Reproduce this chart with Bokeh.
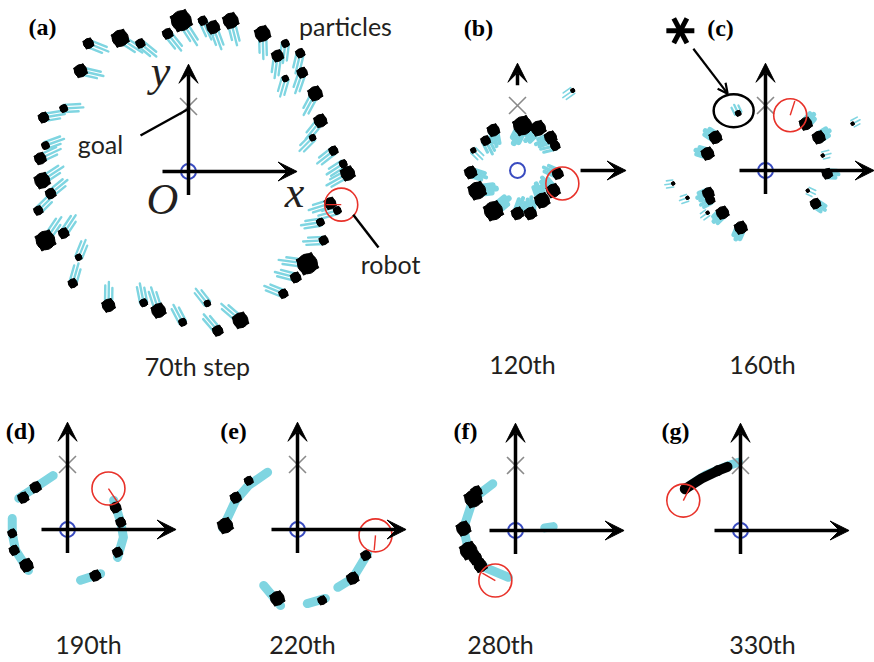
import math
from bokeh.plotting import figure
from bokeh.models import Range1d, Arrow, VeeHead, OpenHead
from bokeh.core.properties import value
from bokeh.embed import file_html
from bokeh.resources import INLINE

# ---------------- data (world units, goal at (0, 1)) ----------------
goal_xy = (0.0, 1.0)
axis_x_extent = (-0.40, 1.67)
axis_y_extent = (-0.36, 1.65)
b_stub_x = (0.97, 1.67)      # panel (b): only the outer part of the axes is visible
b_stub_y = (1.31, 1.65)

panel_letters = ["(a)", "(b)", "(c)", "(d)", "(e)", "(f)", "(g)"]
step_labels = ["70th step", "120th", "160th", "190th", "220th", "280th", "330th"]

robot_x = [2.35, 0.69, 0.38, 0.63, 1.20, -0.31, -0.88]
robot_y = [-0.51, -0.20, 0.85, 0.63, -0.09, -0.77, 0.46]
robot_heading = [180, None, 72, -56, -95, 150, 63]

# panel (a): particle clusters
a_x = [-0.11, 0.38, 0.65, 0.22, -0.32, -1.05, -0.74, -1.54, -1.66, 1.14, 1.37, 1.49,
       1.72, 1.75, 1.49, 1.95, 2.03, 1.91, 2.23, 2.45, 2.38, 2.18, 2.29, 2.03, 2.08,
       1.83, 1.65, 1.46, 0.80, 0.45, 0.29, -0.09, -0.46, -0.69, -1.23, -1.78, -1.69,
       -2.20, -1.92, -2.31, -2.12, -2.25, -2.28, -2.20, -2.23, -1.92]
a_y = [2.32, 2.22, 2.32, 2.32, 2.12, 2.05, 1.97, 1.97, 1.55, 2.12, 1.78, 1.97,
       1.82, 1.52, 1.43, 1.20, 0.78, 0.52, 0.32, -0.03, 0.12, -0.49, -0.60, -0.78, -1.06,
       -1.42, -1.63, -1.88, -2.29, -2.45, -2.03, -2.32, -2.14, -2.02, -2.06, -1.72, -1.32,
       -1.06, -0.95, -0.60, -0.34, -0.14, 0.20, 0.40, 0.83, 0.97]
a_size = [16, 10, 12, 7, 8, 13, 7, 8, 10, 12, 9, 6, 7, 8, 5, 11, 10, 5, 7, 11, 6, 9, 6, 6, 7,
          16, 8, 7, 12, 8, 5, 6, 11, 6, 10, 7, 5, 15, 8, 7, 8, 12, 9, 6, 8, 6]

# panel (b)
b_x = [0.08, 0.32, 0.51, 0.58, -0.37, -0.49, -0.68, -0.72, -0.62, -0.37, 0.00, 0.20,
       0.38, 0.55, 0.62, 0.85]
b_y = [0.69, 0.65, 0.51, 0.38, 0.62, 0.46, 0.31, -0.03, -0.31, -0.62, -0.66, -0.66,
       -0.46, -0.31, -0.05, 1.23]
b_size = [14, 11, 9, 7, 9, 7, 4, 9, 13, 14, 9, 9, 11, 10, 8, 3]

# panel (c)
c_x = [-0.42, -0.77, -0.89, -1.42, -1.20, -0.88, -0.85, -0.89, -0.66, -0.38, 0.62, 0.82,
       0.88, 0.95, 0.65, 0.77, 1.34]
c_y = [0.88, 0.51, 0.26, -0.20, -0.42, -0.35, -0.45, -0.65, -0.65, -0.88, 0.72, 0.51,
       0.23, -0.05, -0.31, -0.51, 0.72]
c_size = [5, 11, 11, 3, 3, 10, 8, 3, 11, 11, 11, 11, 3, 9, 3, 9, 3]
c_marked = (-0.49, 0.92)          # circled particle group
c_star = (-1.31, 2.15)

# panels (d)-(g): particle bands (cyan) and dense groups (black)
d_bands_x = [[-0.22, -0.49, -0.75], [-0.85, -0.85, -0.80, -0.60],
             [0.71, 0.82, 0.86, 0.77], [0.20, 0.51]]
d_bands_y = [[0.83, 0.65, 0.48], [0.17, -0.06, -0.32, -0.63],
             [0.45, 0.11, -0.12, -0.43], [-0.78, -0.68]]
d_x = [-0.49, -0.68, -0.85, -0.82, -0.63, 0.74, 0.82, 0.77, 0.43]
d_y = [0.65, 0.49, -0.06, -0.32, -0.55, 0.34, 0.11, -0.35, -0.71]
d_size = [10, 10, 8, 9, 12, 10, 9, 9, 10]

e_bands_x = [[-0.46, -0.75, -0.95, -1.15], [-0.52, -0.26], [0.15, 0.43],
             [1.08, 0.85, 0.62]]
e_bands_y = [[0.88, 0.68, 0.45, 0.02], [-0.86, -1.17], [-1.14, -1.06],
             [-0.37, -0.75, -0.89]]
e_x = [-0.75, -0.95, -1.11, -0.31, 0.38, 1.05, 0.85]
e_y = [0.75, 0.49, 0.06, -1.06, -1.09, -0.40, -0.75]
e_size = [8, 10, 14, 13, 8, 9, 11]

f_bands_x = [[-0.35, -0.65, -0.80, -0.72, -0.54, -0.11], [0.45, 0.58]]
f_bands_y = [[0.72, 0.49, 0.03, -0.31, -0.54, -0.72], [0.04, 0.06]]
f_x = [-0.65, -0.60, -0.80, -0.72, -0.62, -0.54]
f_y = [0.49, 0.60, 0.03, -0.31, -0.42, -0.54]
f_size = [16, 10, 13, 16, 12, 12]

g_bands_x = [[-0.85, -0.54, -0.18, -0.03]]
g_bands_y = [[0.65, 0.85, 1.00, 1.05]]
g_core_x = [-0.85, -0.60, -0.35, -0.20]
g_core_y = [0.64, 0.80, 0.92, 0.98]

# ---------------- layout / style (page pixels) ----------------
S = 65.0
origins = [(188, 171), (517, 170), (765, 170), (67, 529), (297, 529), (515, 530), (740, 530)]
letter_pos = [(42, 26), (478, 27), (720, 27), (20, 430), (233, 430), (465, 430), (675, 430)]
step_pos = [(197, 365), (522, 363), (762, 363), (88, 643), (302, 643), (500, 643), (762, 643)]
CYAN = "#7fd5e1"
BLACK = "#000000"
W, H = 874, 662


def P(i, wx, wy):
    ox, oy = origins[i]
    return ox + wx * S, oy - wy * S


def PL(i, xs, ys):
    pts = [P(i, a, b) for a, b in zip(xs, ys)]
    return [q[0] for q in pts], [q[1] for q in pts]


p = figure(width=W, height=H, x_range=Range1d(0, W), y_range=Range1d(H, 0),
           output_backend="svg", toolbar_location=None, min_border=0,
           x_axis_location=None, y_axis_location=None)
p.outline_line_color = None
p.xgrid.visible = False
p.ygrid.visible = False
p.background_fill_color = "white"


def blobs(i, xs, ys, sizes, k):
    px_, py_ = PL(i, xs, ys)
    sz = [s * k for s in sizes]
    p.scatter(px_, py_, size=sz, marker="circle", fill_color=BLACK, line_color=BLACK)
    p.scatter(px_, py_, size=[s * 0.85 for s in sz], marker="square", angle=0.45,
              fill_color=BLACK, line_color=BLACK)


def draw_clusters(i, xs, ys, sizes, rot_deg, length, width, k):
    x0, y0, x1, y1, lw = [], [], [], [], []
    for x, y, s in zip(xs, ys, sizes):
        a = math.atan2(-y, -x) + math.radians(rot_deg)
        ux, uy = math.cos(a), math.sin(a)
        nx, ny = -uy, ux
        L = length * (0.6 + 0.04 * s)
        for off, f in ((-0.055, 0.75), (0.0, 1.0), (0.055, 0.85)):
            bx, by = x + off * nx, y + off * ny
            sx, sy = P(i, bx, by)
            ex, ey = P(i, bx + L * f * ux, by + L * f * uy)
            x0.append(sx); y0.append(sy); x1.append(ex); y1.append(ey)
            lw.append(max(1.6, min(width, 0.45 * s)))
    p.segment(x0, y0, x1, y1, line_color=CYAN, line_width=lw, line_cap="round")
    blobs(i, xs, ys, sizes, k)


def draw_bands(i, bxs, bys, xs, ys, sizes):
    mx, my = [], []
    for bx, by in zip(bxs, bys):
        qx, qy = PL(i, bx, by)
        mx.append(qx); my.append(qy)
    p.multi_line(mx, my, line_color=CYAN, line_width=9, line_cap="round", line_join="round")
    if xs:
        blobs(i, xs, ys, sizes, 1.05)


draw_clusters(0, a_x, a_y, a_size, 30, 0.36, 2.4, 1.25)
draw_clusters(1, b_x, b_y, b_size, -20, 0.26, 6, 1.3)
draw_clusters(2, c_x, c_y, c_size, 180, 0.18, 5, 1.1)
draw_bands(3, d_bands_x, d_bands_y, d_x, d_y, d_size)
draw_bands(4, e_bands_x, e_bands_y, e_x, e_y, e_size)
draw_bands(5, f_bands_x, f_bands_y, f_x, f_y, f_size)
draw_bands(6, g_bands_x, g_bands_y, [], [], [])
gx, gy = PL(6, g_core_x, g_core_y)
p.line(gx, gy, line_color=BLACK, line_width=10, line_cap="round")
p.scatter([gx[0], gx[2]], [gy[0], gy[2]], size=10, marker="circle", fill_color=BLACK, line_color=BLACK)

# axes
for i in range(7):
    if i == 1:
        xs0, xs1, ys0, ys1 = b_stub_x[0], b_stub_x[1], b_stub_y[0], b_stub_y[1]
    else:
        xs0, xs1, ys0, ys1 = axis_x_extent[0], axis_x_extent[1], axis_y_extent[0], axis_y_extent[1]
    for (sx, sy), (ex, ey) in ((P(i, xs0, 0), P(i, xs1, 0)), (P(i, 0, ys0), P(i, 0, ys1))):
        p.add_layout(Arrow(x_start=sx, y_start=sy, x_end=ex, y_end=ey, line_width=3.5,
                           line_color=BLACK,
                           end=VeeHead(size=19, fill_color=BLACK, line_color=BLACK, line_width=1)))

# origin, goal, robot
oxs, oys = zip(*[P(i, 0, 0) for i in range(7)])
p.scatter(list(oxs), list(oys), size=15, marker="circle", fill_alpha=0, line_color="#3a4cc0", line_width=2)
gxs, gys = zip(*[P(i, goal_xy[0], goal_xy[1]) for i in range(7)])
p.scatter(list(gxs), list(gys), size=24, marker="x", line_color="#8a8a8a", line_width=1.6)
rxs, rys = zip(*[P(i, robot_x[i], robot_y[i]) for i in range(7)])
p.scatter(list(rxs), list(rys), size=33, marker="circle", fill_alpha=0, line_color="#e8322a", line_width=1.6)
hx0, hy0, hx1, hy1 = [], [], [], []
for i, h in enumerate(robot_heading):
    if h is None:
        continue
    a = math.radians(h)
    hx0.append(rxs[i]); hy0.append(rys[i])
    hx1.append(rxs[i] + 15 * math.cos(a)); hy1.append(rys[i] - 15 * math.sin(a))
p.segment(hx0, hy0, hx1, hy1, line_color="#e8322a", line_width=1.4)

# panel (c) marking
ex_, ey_ = P(2, *c_marked)
p.ellipse([ex_], [ey_], width=40, height=33, fill_alpha=0, line_color=BLACK, line_width=2.5)
sx_, sy_ = P(2, *c_star)
s0x, s0y, s1x, s1y = [], [], [], []
for ang in (0, 62, 118):
    a = math.radians(ang)
    s0x.append(sx_ - 14 * math.cos(a)); s0y.append(sy_ + 14 * math.sin(a))
    s1x.append(sx_ + 14 * math.cos(a)); s1y.append(sy_ - 14 * math.sin(a))
p.segment(s0x, s0y, s1x, s1y, line_color=BLACK, line_width=5)
p.add_layout(Arrow(x_start=sx_ + 13, y_start=sy_ + 18, x_end=ex_ - 6, y_end=ey_ - 17,
                   line_width=2.2, line_color=BLACK,
                   end=OpenHead(size=10, line_color=BLACK, line_width=2.2)))

# leader lines in (a)
gx0, gy0 = P(0, *goal_xy)
rx0, ry0 = P(0, robot_x[0], robot_y[0])
p.segment([140, rx0 + 12], [135, ry0 + 10], [gx0 - 1, 378], [gy0 + 3, 247],
          line_color=BLACK, line_width=2.5)

# texts
p.text([q[0] for q in letter_pos], [q[1] for q in letter_pos], text=panel_letters,
       text_font=value("Liberation Serif"), text_font_style="bold", text_font_size="24px",
       text_align="center", text_baseline="middle", text_color=BLACK)
p.text([q[0] for q in step_pos], [q[1] for q in step_pos], text=step_labels,
       text_font=value("Lato"), text_font_size="25px",
       text_align="center", text_baseline="middle", text_color="#231f20")
p.text([345, 100, 390], [25, 143, 263], text=["particles", "goal", "robot"],
       text_font=value("Lato"), text_font_size="25px",
       text_align="center", text_baseline="middle", text_color="#231f20")
p.text([294, 160, 162], [192, 71, 199], text=["x", "y", "O"],
       text_font=value("Liberation Serif"), text_font_style="italic",
       text_font_size="44px", text_align="center", text_baseline="middle", text_color="#231f20")

open("out.html", "w").write(file_html(p, INLINE))
